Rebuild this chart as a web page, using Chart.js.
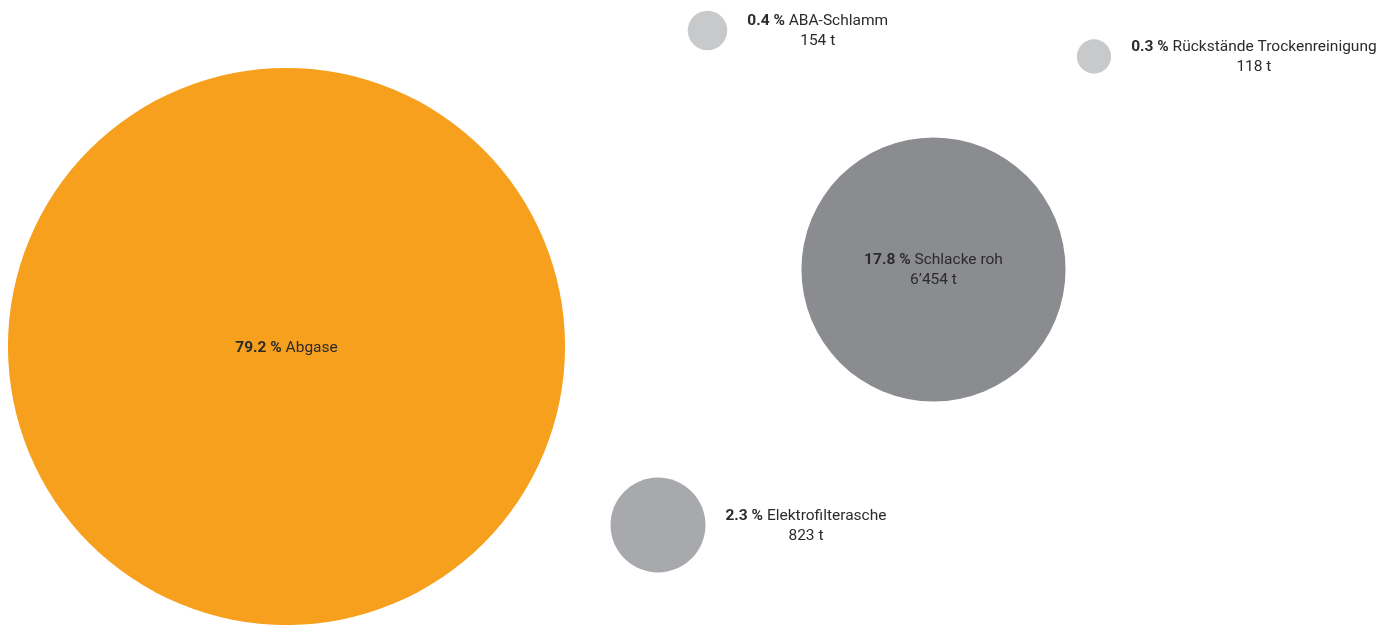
<!DOCTYPE html>
<html lang="de">
<head>
<meta charset="utf-8">
<title>Massenbilanz Verbrennung</title>
<script src="https://cdn.jsdelivr.net/npm/chart.js@4/dist/chart.umd.min.js"></script>
<style>
  html, body { margin: 0; padding: 0; background: #ffffff; }
  #wrap { position: relative; width: 1397px; height: 625px; }
</style>
</head>
<body>
<div id="wrap"><canvas id="chart" width="1397" height="625"></canvas></div>
<script>
// Outputs of the incineration process
const categories = ['Abgase', 'Schlacke roh', 'Elektrofilterasche', 'ABA\u2011Schlamm', 'Rückstände Trockenreinigung'];
const shares     = [79.2, 17.8, 2.3, 0.4, 0.3];          // percent of total mass
const tonnes     = [null, 6454, 823, 154, 118];          // tonnes per year
const posX       = [286.5, 933.5, 658, 707.5, 1094];     // placement on the layout grid
const posY       = [346.5, 269.5, 525, 30.5, 56.5];

const colors     = ['#F7A01E', '#8B8C90', '#A8A9AC', '#C8C9CB', '#C8C9CB'];
const labelSide  = ['inside', 'inside', 'right', 'right', 'right'];
const RADIUS_PER_SQRT_PCT = 31.3;

const FONT = 'Roboto, "Open Sans", sans-serif';
const FONT_SIZE = 15.5;

function fmtPct(v) { return v.toFixed(1) + ' %'; }
function fmtT(v) { return v.toLocaleString('de-CH').replace(/[’'\u2019]/g, '\u2019') + ' t'; }

const points = categories.map((c, i) => ({
  x: posX[i], y: posY[i], r: RADIUS_PER_SQRT_PCT * Math.sqrt(shares[i])
}));

const bubbleLabels = {
  id: 'bubbleLabels',
  afterDatasetsDraw(chart) {
    const ctx = chart.ctx;
    const meta = chart.getDatasetMeta(0);
    ctx.save();
    ctx.fillStyle = '#2b2b2b';
    ctx.textBaseline = 'middle';
    meta.data.forEach((el, i) => {
      const { x, y } = el.getProps(['x', 'y'], true);
      const r = el.options.radius;
      const boldTxt = fmtPct(shares[i]) + ' ';
      const normTxt = categories[i];
      ctx.font = 'bold ' + FONT_SIZE + 'px ' + FONT;
      const wb = ctx.measureText(boldTxt).width;
      ctx.font = FONT_SIZE + 'px ' + FONT;
      const wn = ctx.measureText(normTxt).width;
      const w1 = wb + wn;
      const twoLines = tonnes[i] !== null;
      const lineGap = 20;
      const cx = labelSide[i] === 'inside' ? x : x + r + 20 + w1 / 2;
      const y1 = twoLines ? y - lineGap / 2 + 1 : y + 2;
      ctx.textAlign = 'left';
      ctx.font = 'bold ' + FONT_SIZE + 'px ' + FONT;
      ctx.fillText(boldTxt, cx - w1 / 2, y1);
      ctx.font = FONT_SIZE + 'px ' + FONT;
      ctx.fillText(normTxt, cx - w1 / 2 + wb, y1);
      if (twoLines) {
        ctx.textAlign = 'center';
        ctx.fillText(fmtT(tonnes[i]), cx, y1 + lineGap);
      }
    });
    ctx.restore();
  }
};

new Chart(document.getElementById('chart'), {
  type: 'bubble',
  data: {
    datasets: [{
      label: 'Massenanteil',
      data: points,
      backgroundColor: colors,
      borderWidth: 0,
      hoverBorderWidth: 0,
      clip: false
    }]
  },
  options: {
    responsive: false,
    animation: false,
    events: [],
    layout: { padding: 0, autoPadding: false },
    plugins: { legend: { display: false }, tooltip: { enabled: false } },
    scales: {
      x: { type: 'linear', min: 0, max: 1397, display: false },
      y: { type: 'linear', min: 0, max: 625, reverse: true, display: false }
    }
  },
  plugins: [bubbleLabels]
});
</script>
</body>
</html>
